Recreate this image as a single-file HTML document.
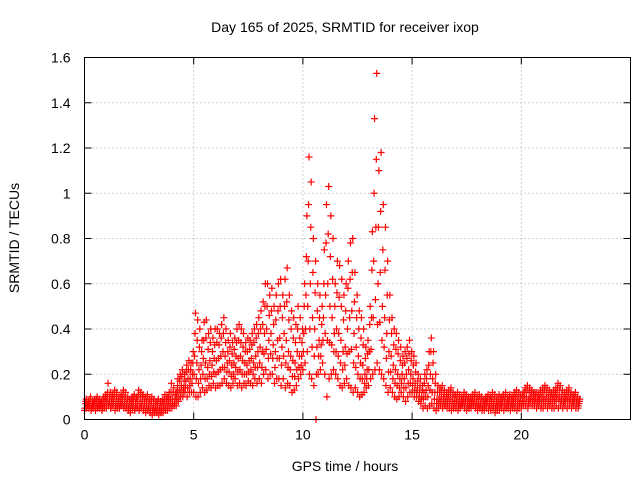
<!DOCTYPE html>
<html><head><meta charset="utf-8"><style>
body{margin:0;background:#fff}
svg text{font-family:"Liberation Sans",sans-serif;font-size:14px;fill:#000}
</style></head><body>
<svg id="chart" width="640" height="480" xmlns="http://www.w3.org/2000/svg">
<text x="345" y="32" text-anchor="middle">Day 165 of 2025, SRMTID for receiver ixop</text>
<text x="345" y="471" text-anchor="middle">GPS time / hours</text>
<text transform="translate(19,238) rotate(-90)" text-anchor="middle">SRMTID / TECUs</text>
<g id="grid"></g>
<g id="ticks"></g>
<g id="marks"></g>
<rect x="84.5" y="57.5" width="546" height="362" fill="none" stroke="#000" stroke-width="1"/>
</svg>
<script>
const xTicks=[0,5,10,15,20];
const yTicks=[0,0.2,0.4,0.6,0.8,1,1.2,1.4,1.6];
const yTickLabels=["0","0.2","0.4","0.6","0.8","1","1.2","1.4","1.6"];
const tStart=0, tStep=0.1;
const hiVals=[.09,.08,.10,.08,.09,.10,.09,.08,.10,.11,
.16,.12,.11,.13,.12,.10,.11,.13,.12,.10,
.09,.10,.11,.10,.13,.12,.11,.10,.11,.09,
.10,.09,.08,.09,.08,.09,.11,.10,.12,.16,
.14,.12,.18,.20,.22,.20,.24,.26,.25,.30,
.47,.44,.40,.35,.43,.44,.38,.40,.36,.40,
.40,.38,.42,.45,.40,.35,.38,.34,.36,.40,
.42,.40,.38,.34,.36,.35,.38,.40,.42,.45,
.48,.52,.60,.60,.55,.58,.50,.55,.60,.62,
.55,.62,.67,.55,.48,.45,.42,.50,.45,.40,
.60,.90,1.16,1.05,.80,.70,.60,.55,.50,.75,
.95,1.03,.90,.80,.60,.70,.68,.62,.55,.60,
.70,.78,.80,.65,.55,.48,.45,.40,.32,.35,
.50,.83,1.33,1.53,1.10,1.18,.95,.85,.70,.55,
.45,.40,.38,.35,.32,.28,.30,.32,.35,.30,
.28,.25,.20,.18,.15,.20,.22,.30,.36,.30,
.20,.15,.14,.15,.13,.12,.13,.14,.12,.11,
.12,.11,.10,.12,.11,.10,.10,.11,.12,.10,
.11,.10,.09,.10,.11,.10,.12,.11,.10,.11,
.10,.11,.12,.10,.11,.10,.12,.13,.12,.11,
.12,.14,.15,.14,.13,.12,.12,.11,.13,.14,
.15,.14,.13,.12,.13,.14,.16,.15,.13,.12,
.13,.14,.12,.11,.12,.10,.09];
const q3Vals=[.08,.07,.09,.07,.08,.09,.08,.07,.09,.10,
.12,.10,.10,.11,.10,.09,.10,.11,.10,.09,
.08,.09,.10,.09,.11,.10,.10,.09,.09,.08,
.08,.07,.07,.08,.07,.08,.09,.09,.10,.12,
.12,.11,.15,.17,.19,.17,.21,.22,.22,.25,
.38,.35,.32,.30,.35,.36,.31,.34,.30,.33,
.34,.33,.36,.38,.34,.30,.32,.29,.31,.34,
.35,.34,.32,.30,.30,.31,.33,.34,.36,.38,
.40,.42,.50,.50,.46,.48,.42,.44,.48,.50,
.45,.50,.52,.44,.40,.36,.34,.40,.36,.34,
.50,.72,.95,.85,.65,.56,.48,.45,.42,.60,
.78,.82,.72,.62,.50,.56,.54,.50,.44,.48,
.58,.62,.65,.52,.45,.40,.36,.33,.27,.29,
.42,.66,1.00,1.15,.85,.92,.75,.66,.55,.44,
.38,.33,.31,.29,.26,.24,.25,.27,.29,.26,
.24,.21,.17,.15,.13,.16,.18,.24,.30,.25,
.16,.12,.12,.13,.11,.10,.11,.12,.10,.10,
.10,.09,.09,.10,.10,.09,.09,.10,.10,.09,
.09,.09,.08,.09,.10,.09,.10,.09,.08,.09,
.09,.10,.10,.09,.10,.09,.10,.11,.10,.10,
.10,.12,.13,.12,.12,.11,.11,.10,.11,.12,
.13,.12,.11,.11,.11,.12,.14,.13,.11,.10,
.11,.12,.11,.10,.11,.09,.08];
const midVals=[.07,.06,.07,.06,.07,.07,.06,.07,.07,.08,
.09,.08,.08,.09,.07,.08,.07,.09,.08,.07,
.06,.07,.08,.07,.08,.07,.08,.07,.07,.06,
.06,.05,.05,.06,.05,.06,.07,.07,.08,.09,
.09,.09,.12,.13,.15,.14,.17,.18,.18,.20,
.28,.25,.22,.24,.27,.25,.23,.26,.24,.27,
.26,.27,.28,.30,.28,.25,.26,.24,.25,.28,
.27,.28,.26,.25,.24,.26,.27,.25,.28,.30,
.32,.30,.38,.40,.35,.38,.33,.30,.35,.36,
.32,.38,.35,.30,.28,.26,.25,.30,.28,.28,
.38,.55,.70,.60,.45,.40,.32,.35,.33,.45,
.55,.60,.50,.45,.38,.40,.38,.35,.30,.32,
.40,.45,.48,.38,.32,.28,.25,.24,.20,.22,
.30,.45,.70,.85,.60,.65,.50,.45,.38,.30,
.28,.24,.22,.20,.18,.20,.18,.20,.22,.20,
.18,.16,.14,.12,.10,.12,.13,.15,.20,.18,
.12,.09,.09,.10,.09,.08,.09,.09,.08,.08,
.08,.07,.07,.08,.08,.07,.07,.08,.08,.07,
.07,.07,.06,.07,.08,.07,.08,.07,.06,.07,
.07,.08,.08,.07,.08,.07,.08,.09,.08,.08,
.08,.10,.10,.09,.10,.09,.09,.08,.09,.09,
.10,.10,.09,.09,.09,.10,.11,.10,.09,.08,
.09,.10,.09,.08,.09,.08,.07];
const q1Vals=[.05,.06,.06,.05,.06,.05,.06,.06,.05,.06,
.07,.07,.06,.07,.06,.06,.06,.07,.06,.06,
.05,.05,.06,.05,.06,.05,.06,.05,.05,.05,
.04,.04,.04,.04,.04,.04,.05,.05,.06,.07,
.07,.07,.09,.10,.12,.12,.14,.14,.15,.16,
.20,.18,.16,.18,.20,.18,.18,.20,.19,.21,
.20,.21,.22,.23,.23,.21,.21,.19,.20,.23,
.21,.22,.20,.20,.20,.21,.22,.20,.23,.23,
.25,.23,.29,.31,.27,.29,.27,.23,.27,.27,
.24,.28,.25,.23,.22,.19,.19,.22,.23,.24,
.30,.40,.50,.40,.32,.28,.20,.28,.28,.35,
.38,.35,.34,.33,.30,.30,.28,.25,.22,.24,
.29,.30,.31,.25,.23,.20,.18,.18,.16,.18,
.22,.31,.45,.53,.42,.43,.35,.32,.27,.21,
.21,.18,.16,.15,.14,.16,.14,.14,.16,.16,
.15,.13,.12,.10,.09,.09,.10,.10,.13,.12,
.09,.07,.07,.08,.07,.07,.07,.07,.06,.07,
.07,.06,.06,.07,.07,.06,.06,.07,.07,.06,
.06,.06,.05,.06,.07,.06,.06,.06,.05,.06,
.06,.07,.06,.06,.07,.06,.07,.07,.06,.07,
.07,.08,.08,.07,.09,.08,.08,.07,.08,.07,
.08,.08,.07,.08,.07,.08,.09,.08,.08,.07,
.08,.08,.08,.07,.08,.07,.06];
const loVals=[.04,.05,.05,.04,.05,.04,.05,.05,.04,.05,
.05,.06,.05,.06,.04,.05,.05,.06,.05,.05,
.04,.03,.05,.04,.05,.04,.05,.04,.03,.04,
.03,.02,.03,.03,.02,.03,.03,.04,.04,.05,
.05,.06,.06,.08,.10,.10,.12,.10,.12,.12,
.12,.10,.10,.12,.14,.12,.13,.15,.14,.16,
.14,.15,.15,.16,.18,.16,.15,.14,.16,.18,
.15,.16,.14,.16,.15,.17,.16,.15,.18,.16,
.18,.16,.20,.22,.18,.20,.20,.16,.18,.18,
.15,.18,.14,.16,.15,.12,.13,.15,.18,.20,
.22,.25,.30,.20,.18,.15,.00,.20,.22,.25,
.20,.10,.18,.20,.22,.20,.18,.15,.14,.16,
.18,.15,.14,.12,.14,.12,.10,.11,.12,.14,
.15,.18,.20,.22,.25,.22,.20,.18,.15,.12,
.14,.12,.10,.09,.10,.12,.10,.08,.10,.12,
.12,.10,.10,.08,.07,.05,.06,.05,.06,.07,
.05,.04,.05,.06,.05,.06,.05,.05,.04,.05,
.05,.04,.05,.06,.05,.04,.05,.05,.06,.05,
.04,.05,.04,.04,.05,.04,.04,.05,.03,.04,
.04,.05,.04,.05,.05,.04,.05,.05,.04,.05,
.05,.06,.06,.05,.07,.06,.06,.05,.06,.05,
.05,.06,.05,.06,.05,.05,.06,.05,.06,.05,
.06,.05,.06,.05,.06,.05,.05];
const NS="http://www.w3.org/2000/svg";
const X0=84.5,X1=630.5,Y0=419.5,Y1=57.5,XMAX=25,YMAX=1.6;
const xs=v=>X0+(v/XMAX)*(X1-X0);
const ys=v=>Y0-(v/YMAX)*(Y0-Y1);
const grid=document.getElementById('grid'),ticks=document.getElementById('ticks'),marks=document.getElementById('marks');
function ln(p,x1,y1,x2,y2,st,dash){const l=document.createElementNS(NS,'line');l.setAttribute('x1',x1);l.setAttribute('y1',y1);l.setAttribute('x2',x2);l.setAttribute('y2',y2);l.setAttribute('stroke',st);if(dash)l.setAttribute('stroke-dasharray',dash);p.appendChild(l);return l;}
xTicks.forEach(v=>{const x=xs(v);
 if(v>0){const g=ln(grid,x,Y0,x,Y1,'#a0a0a0','1,3');
 
 }
 ln(ticks,x,Y0,x,Y0-7,'#000');ln(ticks,x,Y1,x,Y1+7,'#000');
 const t=document.createElementNS(NS,'text');t.setAttribute('x',x);t.setAttribute('y',Y0+20);t.setAttribute('text-anchor','middle');t.textContent=v;
 
 
 ticks.appendChild(t);});
yTicks.forEach((v,i)=>{const y=ys(v);
 if(v>0&&v<YMAX){const g=ln(grid,X0,y,X1,y,'#a0a0a0','1,3');
 
 }
 ln(ticks,X0,y,X0+7,y,'#000');ln(ticks,X1,y,X1-7,y,'#000');
 const t=document.createElementNS(NS,'text');t.setAttribute('x',X0-14);t.setAttribute('y',y+5);t.setAttribute('text-anchor','end');t.textContent=yTickLabels[i];
 
 
 ticks.appendChild(t);});
function plus(t,v,c){const x=xs(t),y=ys(v);const p=document.createElementNS(NS,'path');
 p.setAttribute('d',`M${x-3.5},${y}H${x+3.5}M${x},${y-3.5}V${y+3.5}`);p.setAttribute('stroke',c);p.setAttribute('stroke-width','1.2');
 
 
 marks.appendChild(p);}
[loVals,q1Vals,midVals,q3Vals,hiVals].forEach((arr,k)=>arr.forEach((v,i)=>plus(tStart+i*tStep+k*0.02,v,'#ff0000')));
</script>
</body></html>
